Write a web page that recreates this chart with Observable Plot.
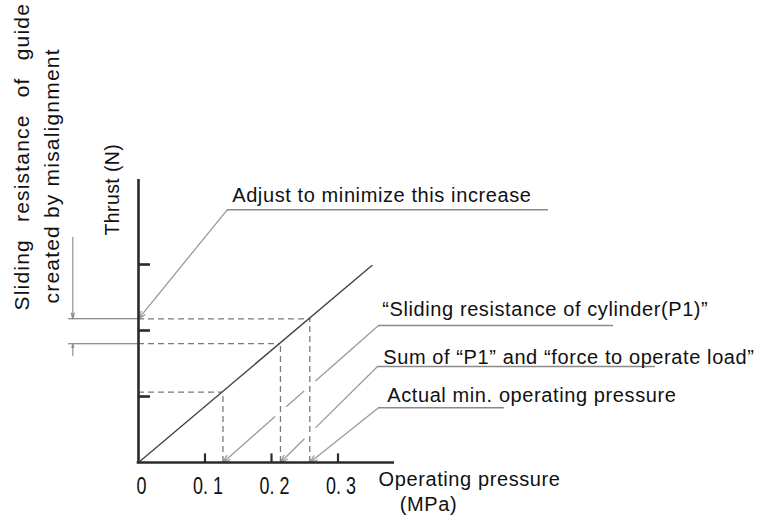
<!DOCTYPE html>
<html><head><meta charset="utf-8">
<script src="https://cdn.jsdelivr.net/npm/d3@7"></script>
<script src="https://cdn.jsdelivr.net/npm/@observablehq/plot@0.6"></script>
<style>body{margin:0;background:#fff}</style>
</head><body><div id="chart"></div>
<script>
// ---- data (pressure in MPa, thrust in axis-tick units) ----
const thrustLinePressure = [0, 0.351];
const thrustLineThrust = [0, 2.985];
const pointPressure = [0.127, 0.2135, 0.2576];
const pointThrust = [1.065, 1.80, 2.177];
const xTicks = [0, 0.1, 0.2, 0.3];
const xTickLabels = ["0", "0. 1", "0. 2", "0. 3"];
const yTicks = [1, 2, 3];
const calloutTexts = ["“Sliding resistance of cylinder(P1)”", "Sum of “P1” and “force to operate load”", "Actual min. operating pressure"];
const adjustText = "Adjust to minimize this increase";
const guideTitle = ["Sliding resistance of guide", "created by misalignment"];
const yTitle = "Thrust (N)";
const xTitle = ["Operating pressure", "(MPa)"];

// ---- layout (annotation anchors, in data units) ----
const callLayout = [
  {tx: 0.3665, ty: 2.227, u1: 0.3609, u2: 0.7143, uy: 2.076},
  {tx: 0.3680, ty: 1.500, u1: 0.3594, u2: 0.7774, uy: 1.4545},
  {tx: 0.3740, ty: 0.914, u1: 0.3609, u2: 0.5504, uy: 0.829}
];
const adjustLayout = {tx: 0.1409, ty: 3.944, u1: 0.1334, u2: 0.6165, uy: 3.829};

const points = pointPressure.map((p, i) => ({p, t: pointThrust[i]}));
const thrustLine = thrustLinePressure.map((p, i) => ({p, t: thrustLineThrust[i]}));

// leader lines with small gaps where they cross the vertical dashed lines
const gap = 0.0085;
const leaderSegs = [], leaderHeads = [];
callLayout.forEach((c, i) => {
  const x1 = c.u1, y1 = c.uy, x2 = pointPressure[i], y2 = 0;
  const ts = [];
  points.forEach((q, j) => {
    if (j === i) return;
    if (q.p < Math.min(x1, x2) || q.p > Math.max(x1, x2)) return;
    const t = (q.p - x1) / (x2 - x1);
    const yy = y1 + t * (y2 - y1);
    if (yy > 0 && yy < q.t) ts.push(t);
  });
  ts.sort((a, b) => a - b);
  const dt = gap / Math.abs(x2 - x1);
  let start = 0;
  const at = t => ({x: x1 + t * (x2 - x1), y: y1 + t * (y2 - y1)});
  ts.forEach(t => {
    const a = at(start), b = at(t - dt);
    leaderSegs.push({x1: a.x, y1: a.y, x2: b.x, y2: b.y});
    start = t + dt;
  });
  const a = at(start);
  leaderHeads.push({x1: a.x, y1: a.y, x2: x2, y2: y2});
});
leaderHeads.push({x1: adjustLayout.u1, y1: adjustLayout.uy, x2: 0, y2: pointThrust[2]});

const underlines = callLayout.map(c => ({x1: c.u1, x2: c.u2, y: c.uy}));
underlines.push({x1: adjustLayout.u1, x2: adjustLayout.u2, y: adjustLayout.uy});

const labels = calloutTexts.map((s, i) => ({s, x: callLayout[i].tx, y: callLayout[i].ty}));
labels.push({s: adjustText, x: adjustLayout.tx, y: adjustLayout.ty});

const guideUpper = pointThrust[2], guideLower = pointThrust[1];
const bracketX = -0.0988, extX = -0.105;

const font = "Liberation Sans, Arial, Helvetica, sans-serif";

const chart = Plot.plot({
  width: 768, height: 515, margin: 0,
  style: {background: "#fff", overflow: "visible"},
  x: {domain: [-138/665, 630/665], axis: null},
  y: {domain: [-53/66, 462/66], axis: null},
  marks: [
    // leaders
    Plot.link(leaderSegs, {x1: "x1", y1: "y1", x2: "x2", y2: "y2", stroke: "#9a9a9a", strokeWidth: 1.3}),
    Plot.arrow(leaderHeads, {x1: "x1", y1: "y1", x2: "x2", y2: "y2", stroke: "#9a9a9a", strokeWidth: 1.3, headLength: 9, headAngle: 40}),
    // underlines
    Plot.ruleY(underlines, {y: "y", x1: "x1", x2: "x2", stroke: "#8a8a8a", strokeWidth: 1.6}),
    // dashed guides
    Plot.ruleY(points, {y: "t", x1: 0, x2: "p", stroke: "#7a7a7a", strokeWidth: 1.3, strokeDasharray: "6,4"}),
    Plot.ruleX(points, {x: "p", y1: 0, y2: "t", stroke: "#7a7a7a", strokeWidth: 1.3, strokeDasharray: "6,4"}),
    // extension lines for the guide-resistance bracket
    Plot.ruleY([guideUpper, guideLower], {y: d => d, x1: extX, x2: 0, stroke: "#6a6a6a", strokeWidth: 1.1}),
    Plot.arrow([{y1: 3.414, y2: guideUpper}, {y1: 1.62, y2: guideLower}], {x1: bracketX, x2: bracketX, y1: "y1", y2: "y2", stroke: "#8a8a8a", strokeWidth: 1.1, headLength: 8, headAngle: 30}),
    // thrust line
    Plot.line(thrustLine, {x: "p", y: "t", stroke: "#444", strokeWidth: 1.4}),
    // axes
    Plot.ruleX([0], {y1: 0, y2: 4.288, stroke: "#2a2a2a", strokeWidth: 2.6}),
    Plot.ruleY([0], {x1: -0.002, x2: 0.385, stroke: "#2a2a2a", strokeWidth: 2.4}),
    Plot.ruleX(xTicks.slice(1), {x: d => d, y1: 0, y2: 0.13, stroke: "#2a2a2a", strokeWidth: 2.2}),
    Plot.ruleY(yTicks, {y: d => d, x1: 0, x2: 0.018, stroke: "#2a2a2a", strokeWidth: 2.6}),
    // tick labels
    Plot.text(xTicks, {x: d => d, y: -0.47, text: (d, i) => xTickLabels[i], dx: 3, lineAnchor: "bottom", textAnchor: "middle",
      fontSize: 23, fontFamily: font, fill: "#111"}),
    // annotation texts
    Plot.text(labels, {x: "x", y: "y", text: "s", lineAnchor: "bottom", textAnchor: "start", fontSize: 20, fontFamily: font, fill: "#111"}),
    Plot.text([xTitle[0]], {x: 0.361, y: -0.359, text: d => d, lineAnchor: "bottom", textAnchor: "start", fontSize: 20, fontFamily: font, fill: "#111"}),
    Plot.text([xTitle[1]], {x: 0.393, y: -0.738, text: d => d, lineAnchor: "bottom", textAnchor: "start", fontSize: 20, fontFamily: font, fill: "#111"}),
    Plot.text([yTitle], {x: -0.0286, y: 3.439, text: d => d, rotate: -90, lineAnchor: "bottom", textAnchor: "start", fontSize: 19.5, fontFamily: font, fill: "#111"}),
    Plot.text([guideTitle[0]], {x: -0.1654, y: 2.303, text: d => d, rotate: -90, lineAnchor: "bottom", textAnchor: "start", fontSize: 21, fontFamily: font, fill: "#111"}),
    Plot.text([guideTitle[1]], {x: -0.1188, y: 2.409, text: d => d, rotate: -90, lineAnchor: "bottom", textAnchor: "start", fontSize: 21, fontFamily: font, fill: "#111"})
  ]
});
document.getElementById("chart").appendChild(chart);

// letter spacing / condensing to match the lettering of the original
d3.select(chart).selectAll("text").each(function() {
  const s = this.textContent;
  if (xTickLabels.includes(s)) {
    const tr = this.getAttribute("transform") || "";
    this.setAttribute("transform", tr + " scale(0.78,1)");
    return;
  }
  if (s === guideTitle[0]) { this.style.letterSpacing = "1.2px"; this.style.wordSpacing = "10px"; return; }
  if (s === guideTitle[1]) { this.style.letterSpacing = "1.2px"; return; }
  if (s === yTitle) { this.style.letterSpacing = "0.4px"; return; }
  this.style.letterSpacing = "0.6px";
});
</script>
</body></html>
